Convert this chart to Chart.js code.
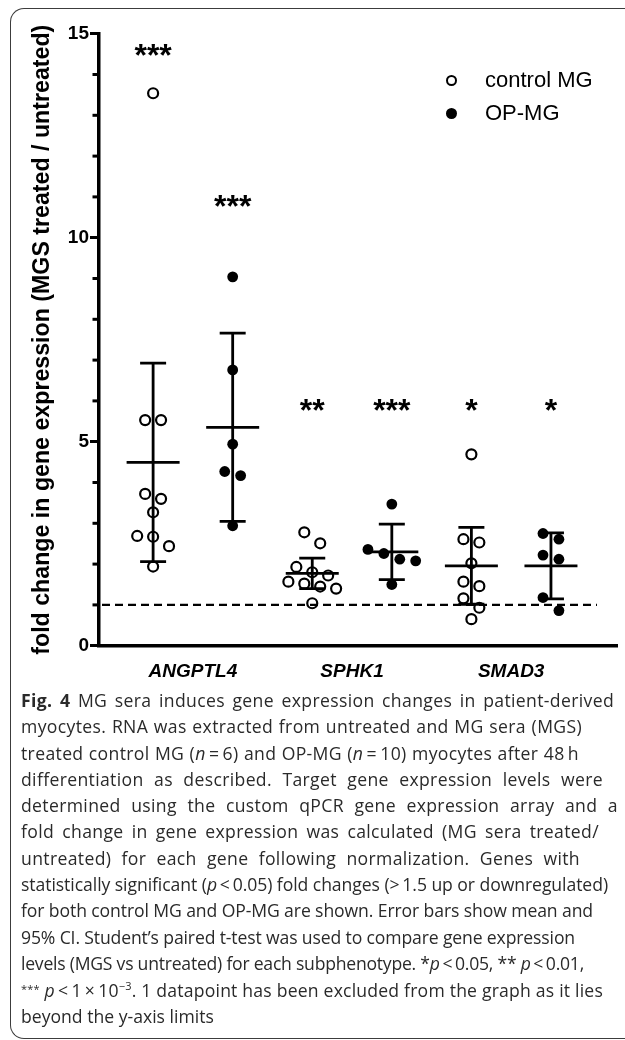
<!DOCTYPE html>
<html>
<head>
<meta charset="utf-8">
<script src="https://cdn.jsdelivr.net/npm/chart.js@4.4.1/dist/chart.umd.min.js"></script>
<style>
  html, body { margin: 0; padding: 0; background: #fff; width: 625px; height: 1040px; overflow: hidden; }
  #frame { position: absolute; left: 10px; top: 8px; width: 660px; height: 1031px; box-sizing: border-box;
           border: 1.6px solid #3c3c3c; border-right: none; border-radius: 14px 0 0 14px; }
  #chart { position: absolute; left: 0; top: 0; }
  .leg { position: absolute; left: 485px; height: 26px; line-height: 26px; font-family: 'Liberation Sans', Arial, sans-serif;
         font-size: 22px; color: #000; white-space: nowrap; }
  .mk { position: absolute; box-sizing: border-box; border-radius: 50%; }
  #caption { position: absolute; left: 21px; top: 687px; font-family: 'Open Sans', sans-serif; font-size: 17.6px; color: #2a2a2a; }
  #caption .ln { height: 26.3px; line-height: 26.3px; white-space: nowrap; }
  #caption .ln span.w { display: inline-block; }
  #caption b { font-weight: 700; }
  #caption sup { font-size: 11px; line-height: 0; vertical-align: 7px; }
  #caption .sm { font-size: 11px; vertical-align: 4px; }
</style>
</head>
<body>
<div id="frame"></div>
<canvas id="chart" width="625" height="690"></canvas>
<div id="legend"></div>
<div id="caption"></div>
<script>
// ---------------- data ----------------
const genes = ['ANGPTL4', 'SPHK1', 'SMAD3'];
const seriesNames = ['control MG', 'OP-MG'];
const controlANGPTL4 = [13.54, 5.53, 5.53, 3.72, 3.60, 3.27, 2.69, 2.67, 2.44, 1.94];
const opANGPTL4 = [9.04, 6.76, 4.94, 4.27, 4.17, 2.94];
const controlSPHK1 = [2.78, 2.51, 1.93, 1.80, 1.72, 1.57, 1.52, 1.45, 1.40, 1.04];
const opSPHK1 = [3.47, 2.36, 2.26, 2.12, 2.08, 1.50];
const controlSMAD3 = [4.69, 2.61, 2.53, 2.02, 1.57, 1.46, 1.16, 0.93, 0.65];
const opSMAD3 = [2.75, 2.61, 2.22, 2.12, 1.18, 0.86];
const significance = ['***', '***', '**', '***', '*', '*'];
const significanceLevel = [14.6, 10.9, 5.9, 5.9, 5.9, 5.9];
const yMin = 0, yMax = 15, majorStep = 5, minorStep = 1;
const referenceFold = 1;
const yTitle = 'fold change in gene expression (MGS treated / untreated)';

const captionLines = [
  '<b>Fig. 4</b> MG sera induces gene expression changes in patient-derived',
  'myocytes. RNA was extracted from untreated and MG sera (MGS)',
  'treated control MG (<i>n</i>\u2009=\u20096) and OP-MG (<i>n</i>\u2009=\u200910) myocytes after 48\u2009h',
  'differentiation as described. Target gene expression levels were',
  'determined using the custom qPCR gene expression array and a',
  'fold change in gene expression was calculated (MG sera treated/',
  'untreated) for each gene following normalization. Genes with',
  'statistically significant (<i>p</i>\u2009&lt;\u20090.05) fold changes (&gt;\u20091.5 up or downregulated)',
  'for both control MG and OP-MG are shown. Error bars show mean and',
  '95% CI. Student\u2019s paired t-test was used to compare gene expression',
  'levels (MGS vs untreated) for each subphenotype. *<i>p</i>\u2009&lt;\u20090.05, ** <i>p</i>\u2009&lt;\u20090.01,',
  '<span class="sm">***</span> <i>p</i>\u2009&lt;\u20091\u2009\u00d7\u200910<sup>\u22123</sup>. 1 datapoint has been excluded from the graph as it lies',
  'beyond the y-axis limits'
];
const captionRight = [614, 582, 579, 603, 618, 599, 580, 608, 593, 575, 584, 603, null];

// ---------------- helpers ----------------
const FONT = "'Liberation Sans', Arial, Helvetica, sans-serif";
const ROW_TOL = 0.35;   // values closer than this share a row in the swarm
const SPREAD = 0.2;     // horizontal spacing in a swarm row (x units)
const tCrit = {1: 12.706, 2: 4.303, 3: 3.182, 4: 2.776, 5: 2.571, 6: 2.447, 7: 2.365, 8: 2.306, 9: 2.262, 10: 2.228, 11: 2.201};

const controlByGene = [controlANGPTL4, controlSPHK1, controlSMAD3];
const opByGene = [opANGPTL4, opSPHK1, opSMAD3];
const groups = [];
genes.forEach((g, i) => {
  groups.push({ values: controlByGene[i], pos: 2 * i + 1, series: 0 });
  groups.push({ values: opByGene[i], pos: 2 * i + 2, series: 1 });
});

function swarm(values, pos) {
  const sorted = values.slice().sort((a, b) => b - a);
  const rows = []; let cur = null;
  sorted.forEach(v => {
    if (!cur || cur.start - v > ROW_TOL) { cur = { start: v, vals: [] }; rows.push(cur); }
    cur.vals.push(v);
  });
  const pts = [];
  rows.forEach(r => {
    const n = r.vals.length;
    r.vals.forEach((v, k) => pts.push({ x: pos + (k - (n - 1) / 2) * SPREAD, y: v }));
  });
  return pts;
}
function stats(values) {
  const n = values.length;
  const mean = values.reduce((a, b) => a + b, 0) / n;
  const sd = Math.sqrt(values.reduce((a, b) => a + (b - mean) * (b - mean), 0) / (n - 1));
  const h = tCrit[n - 1] * sd / Math.sqrt(n);
  return { mean, lo: mean - h, hi: mean + h };
}

const controlPoints = [], opPoints = [];
groups.forEach(g => (g.series === 0 ? controlPoints : opPoints).push(...swarm(g.values, g.pos)));

// ---------------- overlay plugin ----------------
const overlay = {
  id: 'overlay',
  afterDatasetsDraw(chart) {
    const { ctx, chartArea, scales: { x, y } } = chart;
    ctx.save();
    // reference line at fold = 1
    const yb = y.getPixelForValue(referenceFold);
    ctx.strokeStyle = '#000'; ctx.lineWidth = 2.2; ctx.setLineDash([8, 5]);
    ctx.beginPath(); ctx.moveTo(chartArea.left + 3, yb);
    ctx.lineTo(x.getPixelForValue(groups[groups.length - 1].pos) + 46, yb); ctx.stroke();
    ctx.setLineDash([]);
    // mean and 95% CI
    ctx.lineWidth = 2.8; ctx.lineCap = 'butt';
    groups.forEach(g => {
      const s = stats(g.values);
      const cx = x.getPixelForValue(g.pos);
      const pm = y.getPixelForValue(s.mean), plo = y.getPixelForValue(s.lo), phi = y.getPixelForValue(s.hi);
      ctx.beginPath();
      ctx.moveTo(cx, phi); ctx.lineTo(cx, plo);
      ctx.moveTo(cx - 13, phi); ctx.lineTo(cx + 13, phi);
      ctx.moveTo(cx - 13, plo); ctx.lineTo(cx + 13, plo);
      ctx.moveTo(cx - 26.5, pm); ctx.lineTo(cx + 26.5, pm);
      ctx.stroke();
    });
    // significance stars
    ctx.fillStyle = '#000';
    ctx.font = 'bold 32px ' + FONT;
    ctx.textAlign = 'center'; ctx.textBaseline = 'alphabetic';
    groups.forEach((g, i) => {
      const m = ctx.measureText(significance[i]);
      const cy = y.getPixelForValue(significanceLevel[i]);
      const base = cy + (m.actualBoundingBoxAscent - m.actualBoundingBoxDescent) / 2;
      ctx.fillText(significance[i], x.getPixelForValue(g.pos), base);
    });
    ctx.restore();
  },
  afterDraw(chart) {
    const { ctx, scales: { y } } = chart;
    ctx.save();
    ctx.strokeStyle = '#000'; ctx.lineWidth = 3;
    const xl = y.right - 1.5;
    for (let v = yMin; v <= yMax; v += minorStep) {
      if (v % majorStep === 0) continue;
      const py = y.getPixelForValue(v);
      ctx.beginPath(); ctx.moveTo(xl - 5, py); ctx.lineTo(xl, py); ctx.stroke();
    }
    ctx.restore();
  }
};

// ---------------- chart ----------------
new Chart(document.getElementById('chart'), {
  type: 'scatter',
  data: {
    datasets: [
      { label: seriesNames[0], data: controlPoints, pointStyle: 'circle', pointRadius: 5, pointHoverRadius: 5,
        backgroundColor: '#fff', borderColor: '#000', borderWidth: 2.2 },
      { label: seriesNames[1], data: opPoints, pointStyle: 'circle', pointRadius: 5.4, pointHoverRadius: 5.4,
        backgroundColor: '#000', borderColor: '#000', borderWidth: 0 }
    ]
  },
  options: {
    responsive: false, animation: false, events: [],
    layout: { padding: { top: 33.7, right: 5, left: 0, bottom: 0 } },
    plugins: { legend: { display: false }, tooltip: { enabled: false } },
    scales: {
      x: {
        type: 'linear', min: 0.32, max: 6.84,
        afterBuildTicks: s => { s.ticks = genes.map((g, i) => ({ value: 2 * i + 1.5 })); },
        afterFit: s => { s.height = 44.3; },
        ticks: { autoSkip: false, maxRotation: 0, padding: 7, color: '#000',
                 font: { family: FONT, size: 19, weight: 'bold', style: 'italic' },
                 callback: (v, i) => genes[i] },
        grid: { display: false },
        border: { display: true, color: '#000', width: 3.5 }
      },
      y: {
        min: yMin, max: yMax,
        afterFit: s => { s.width = 99; },
        ticks: { stepSize: minorStep, autoSkip: false, padding: 1, color: '#000',
                 font: { family: FONT, size: 19, weight: 'bold' },
                 callback: v => (v % majorStep === 0 ? String(v) : '') },
        grid: { drawOnChartArea: false, drawTicks: true, tickLength: 9, tickWidth: 3,
                tickColor: c => (c.tick && c.tick.value % majorStep === 0) ? '#000' : 'rgba(0,0,0,0)' },
        border: { display: true, color: '#000', width: 3.5 },
        title: { display: true, text: yTitle, color: '#000', padding: { top: 29, bottom: 0 },
                 font: { family: FONT, size: 23.2, weight: 'bold' } }
      }
    }
  },
  plugins: [overlay]
});

// ---------------- legend ----------------
const legend = document.getElementById('legend');
const legendRowsY = [80, 113];
seriesNames.forEach((name, i) => {
  const mk = document.createElement('div');
  mk.className = 'mk';
  const d = 11;
  mk.style.width = d + 'px'; mk.style.height = d + 'px';
  mk.style.left = (451.7 - d / 2) + 'px'; mk.style.top = (legendRowsY[i] - d / 2) + 'px';
  if (i === 0) { mk.style.border = '2.2px solid #000'; mk.style.background = '#fff'; }
  else { mk.style.background = '#000'; }
  legend.appendChild(mk);
  const t = document.createElement('div');
  t.className = 'leg'; t.textContent = name; t.style.top = (legendRowsY[i] - 13) + 'px';
  legend.appendChild(t);
});

// ---------------- caption ----------------
const cap = document.getElementById('caption');
captionLines.forEach((html, i) => {
  const ln = document.createElement('div'); ln.className = 'ln';
  const w = document.createElement('span'); w.className = 'w'; w.innerHTML = html;
  ln.appendChild(w); cap.appendChild(ln);
});
function fitCaption() {
  Array.from(cap.querySelectorAll('.ln span.w')).forEach((w, i) => {
    const target = captionRight[i];
    if (target == null) return;
    w.style.wordSpacing = '0px'; w.style.letterSpacing = '0px';
    const nat = w.getBoundingClientRect().width;
    const want = target - 21;
    const chars = w.textContent.length;
    const spaces = (w.textContent.match(/ /g) || []).length;
    let diff = want - nat;
    if (diff < 0 || !spaces) { w.style.letterSpacing = (diff / chars) + 'px'; return; }
    const ls = Math.min(diff / chars, 0.35);
    w.style.letterSpacing = ls + 'px';
    const rest = want - w.getBoundingClientRect().width;
    if (rest > 0) w.style.wordSpacing = (rest / spaces) + 'px';
  });
}
fitCaption();
if (document.fonts && document.fonts.ready) document.fonts.ready.then(fitCaption);
</script>
</body>
</html>
